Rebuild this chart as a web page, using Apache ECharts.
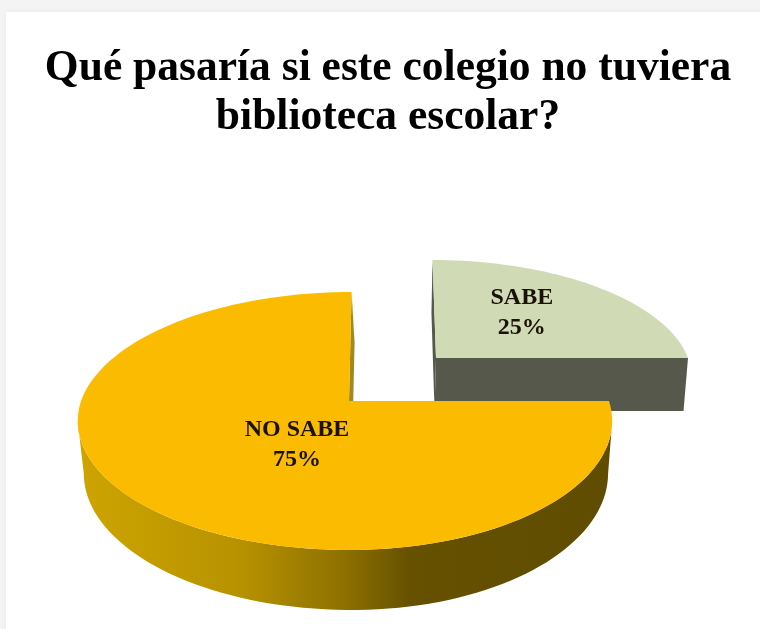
<!DOCTYPE html>
<html><head><meta charset="utf-8">
<style>html,body{margin:0;padding:0;background:#f4f4f4}#c{width:760px;height:629px}</style>
<script src="https://cdn.jsdelivr.net/npm/echarts@6/dist/echarts.min.js"></script>
</head><body><div id="c"></div>
<script>
const titleLines = ['Qué pasaría si este colegio no tuviera', 'biblioteca escolar?'];
const categories = ['SABE', 'NO SABE'];
const percentValues = [25, 75];

// Projection of each slice (tilted, perspective circle); layout only, no data.
const K = 0.155;
const sliceLayout = [
  { top: {x:436, y:358, rxL:252, rxR:252, back:98,  front:140, shear:-4},
    bot: {x:434.5, y:411, rxL:249, rxR:249, back:98, front:140, shear:-3.5},
    label:{u:0.37, v:0.43}, top3: '#D0DAB5', wall:'#55584A', face:'#55584A' },
  { top: {x:349, y:401, rxL:268, rxR:260, back:109, front:149, shear:3},
    bot: {x:352, y:452, rxL:265, rxR:253, back:109, front:158, shear:3},
    label:{u:-0.184, v:-0.33}, top3:'#FBBB00', wall:null, face:'#A08A20' }
];
const wallStops = [[0,'#CDA400'],[0.3,'#B89300'],[0.5,'#8D7000'],[0.62,'#665100'],[1,'#5F4C00']];

function project(p, u, v) {
  const a = (v >= 0 ? p.back * (1 + K) : p.front * (1 - K));
  const rx = u < 0 ? p.rxL : p.rxR;
  const d = 1 + K * v;
  return [p.x + (rx * u + p.shear * Math.max(v, 0)) / d, p.y - a * v / d];
}
const onRing = (p, deg) => project(p, Math.cos(deg * Math.PI / 180), Math.sin(deg * Math.PI / 180));
function arc(p, from, to) {
  const n = Math.max(2, Math.ceil(Math.abs(to - from) / 2)), pts = [];
  for (let i = 0; i <= n; i++) pts.push(onRing(p, from + (to - from) * i / n));
  return pts;
}

const total = percentValues.reduce((a, b) => a + b, 0);
function sliceAngles(i) {
  // clockwise from 12 o'clock
  let start = 90;
  for (let j = 0; j < i; j++) start -= percentValues[j] / total * 360;
  return [start, start - percentValues[i] / total * 360];
}

function renderItem(params, api) {
  const i = params.dataIndex, L = sliceLayout[i];
  const value = api.value(0);
  const [a0, a1] = sliceAngles(i);
  const hi = Math.max(a0, a1), lo = Math.min(a0, a1);
  const children = [];
  const poly = (points, fill) => children.push({type:'polygon', shape:{points}, style:{fill}});

  // radial faces
  [a0, a1].forEach(a => {
    poly([[L.top.x, L.top.y], onRing(L.top, a), onRing(L.bot, a), [L.bot.x, L.bot.y]], L.face);
  });
  // outer front wall: rim between the two silhouette points of the tilted circle
  const fLo = Math.max(lo, -171), fHi = Math.min(hi, -9);
  if (fHi > fLo) {
    const upper = arc(L.top, fLo, fHi);
    const lower = arc(L.bot, fHi, fLo);
    poly(upper.concat(lower), new echarts.graphic.LinearGradient(0, 0, 1, 0,
      wallStops.map(s => ({offset:s[0], color:s[1]}))));
  }
  // top face
  poly([[L.top.x, L.top.y]].concat(arc(L.top, a0, a1)), L.top3);
  // label
  const pos = project(L.top, L.label.u, L.label.v);
  children.push({type:'text', x:pos[0], y:pos[1], z2:10, style:{
    text: categories[i] + '\n' + value + '%',
    font:'bold 24px "Liberation Serif"', lineHeight:30,
    fill:'#1a1208', align:'center', verticalAlign:'middle'
  }});
  return {type:'group', children};
}

const chart = echarts.init(document.getElementById('c'), null, {renderer:'canvas'});
chart.setOption({
  animation:false,
  backgroundColor:'#f4f4f4',
  graphic:[{type:'rect', z:-10, silent:true, shape:{x:6, y:12, width:760, height:630},
    style:{fill:'#fff', shadowBlur:6, shadowColor:'rgba(0,0,0,0.06)'}}],
  title:{
    text:titleLines.join('\n'), left:383, top:39, textAlign:'center',
    textStyle:{fontFamily:'"Liberation Serif"', fontWeight:'bold', fontSize:43.5, lineHeight:49, color:'#000'}
  },
  series:[{
    type:'custom', coordinateSystem:'none', renderItem,
    data:percentValues.map((v, i) => ({name:categories[i], value:[v]}))
  }]
});
</script></body></html>
